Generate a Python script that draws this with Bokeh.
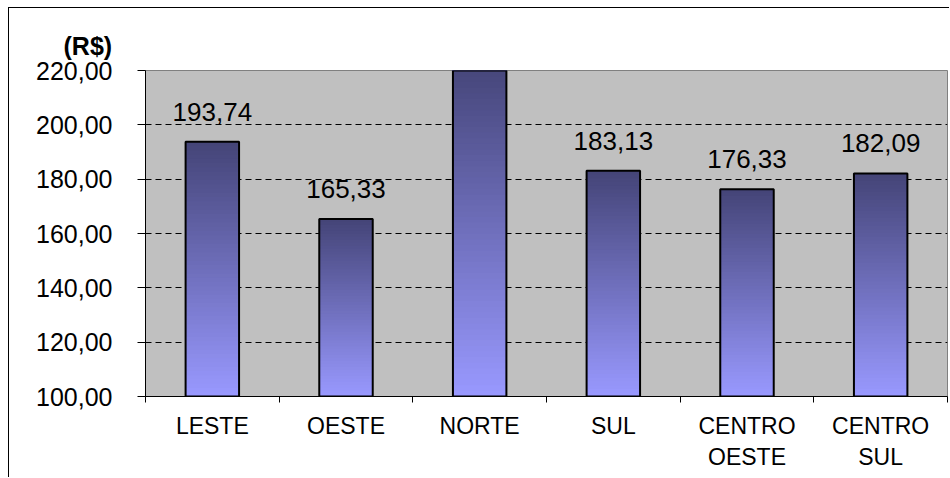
from bokeh.plotting import figure
from bokeh.models import Range1d, FixedTicker, CustomJSTickFormatter, ColumnDataSource
from bokeh.core.properties import value
from bokeh.embed import file_html
from bokeh.resources import INLINE

# ---- data ----
categories = ["LESTE", "OESTE", "NORTE", "SUL", "CENTRO\nOESTE", "CENTRO\nSUL"]
values = [193.74, 165.33, 224.0, 183.13, 176.33, 182.09]
y_ticks = [100, 120, 140, 160, 180, 200, 220]
y_label = "(R$)"

Y_MIN, Y_MAX = 100, 220
FONT = "Liberation Sans"
BAR_W = 0.4
N_SLICES = 60
TOP_RGB = (0x44, 0x44, 0x77)
BOT_RGB = (0x99, 0x99, 0xFF)

p = figure(width=941, height=470, output_backend="svg", toolbar_location=None,
           x_range=Range1d(0, len(categories)), y_range=Range1d(Y_MIN, Y_MAX),
           min_border_left=136, min_border_right=3, min_border_top=62,
           min_border_bottom=82)
p.styles = {"margin-left": "8px", "margin-top": "7px",
            "border-left": "1px solid black", "border-top": "1px solid black"}
p.background_fill_color = "#C0C0C0"
p.border_fill_color = "white"
p.outline_line_color = "#808080"
p.outline_line_width = 1

# title used as the unit label, placed left of the frame above the 220 tick
p.title.text = y_label
p.title.align = "left"
p.title.offset = -82
p.title.standoff = 21
p.title.text_font = FONT
p.title.text_font_size = "25px"
p.title.text_font_style = "bold"
p.title.text_color = "black"

# gradient bars: stacked slices, each reaching to the bar top so that no seams show
lefts, rights, bottoms, tops, colors = [], [], [], [], []
for i, v in enumerate(values):
    xc = i + 0.5
    for k in range(N_SLICES):
        t = (k + 0.5) / N_SLICES
        r = round(BOT_RGB[0] + (TOP_RGB[0] - BOT_RGB[0]) * t)
        g = round(BOT_RGB[1] + (TOP_RGB[1] - BOT_RGB[1]) * t)
        b = round(BOT_RGB[2] + (TOP_RGB[2] - BOT_RGB[2]) * t)
        lefts.append(xc - BAR_W / 2)
        rights.append(xc + BAR_W / 2)
        bottoms.append(Y_MIN + (v - Y_MIN) * k / N_SLICES)
        tops.append(v)
        colors.append("#%02x%02x%02x" % (r, g, b))
p.quad(left=lefts, right=rights, bottom=bottoms, top=tops, fill_color=colors,
       line_color=None)

xs = [i + 0.5 for i in range(len(categories))]
src = ColumnDataSource(dict(x=xs, top=values,
                            lab=[("%.2f" % v).replace(".", ",") for v in values]))
p.vbar(x="x", top="top", bottom=Y_MIN, width=BAR_W, source=src,
       fill_color=None, line_color="black", line_width=2)
p.text(x="x", y="top", text="lab", source=src, text_align="center",
       text_baseline="alphabetic", y_offset=-30, text_font=value(FONT),
       text_font_size="26px", text_color="black")

# axes
xa = p.xaxis[0]
xa.ticker = FixedTicker(ticks=xs, minor_ticks=list(range(len(categories) + 1)))
xa.major_label_overrides = {x: c for x, c in zip(xs, categories)}
xa.major_tick_out = 0
xa.major_tick_in = 0
xa.minor_tick_out = 6
xa.minor_tick_in = 0
xa.minor_tick_line_color = "black"
xa.axis_line_color = "black"
xa.major_label_text_font = FONT
xa.major_label_text_font_size = "23px"
xa.major_label_text_color = "black"
xa.major_label_standoff = 10

ya = p.yaxis[0]
ya.ticker = FixedTicker(ticks=y_ticks, minor_ticks=[])
ya.formatter = CustomJSTickFormatter(code="return tick.toFixed(2).replace('.', ',');")
ya.major_tick_out = 8
ya.major_tick_in = 0
ya.minor_tick_out = 0
ya.minor_tick_in = 0
ya.axis_line_color = "black"
ya.major_tick_line_color = "black"
ya.major_label_text_font = FONT
ya.major_label_text_font_size = "25px"
ya.major_label_text_color = "black"
ya.major_label_standoff = 25

p.xgrid.visible = False
p.ygrid.ticker = FixedTicker(ticks=[t for t in y_ticks if Y_MIN < t < Y_MAX])
p.ygrid.grid_line_color = "black"
p.ygrid.grid_line_dash = "6 4"
p.ygrid.grid_line_width = 1

open("out.html", "w").write(file_html(p, INLINE))
